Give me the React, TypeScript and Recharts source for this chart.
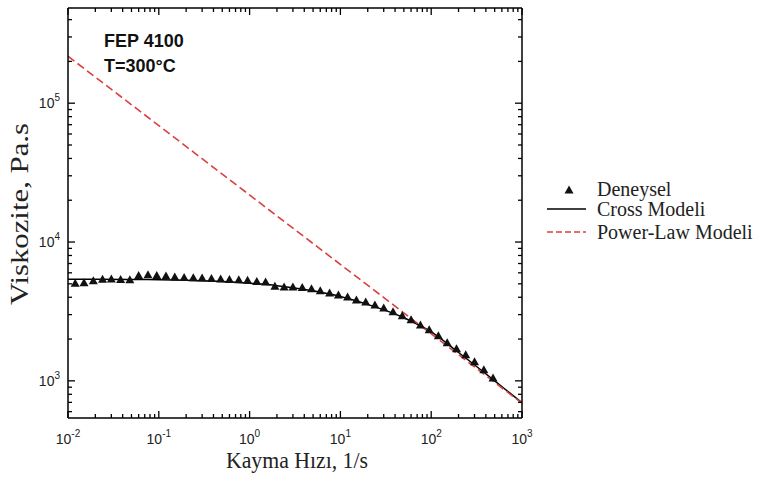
import {
  ComposedChart,
  Line,
  Scatter,
  XAxis,
  YAxis,
  Legend,
  Customized
} from 'recharts';

// shear rate (1/s) and measured viscosity (Pa.s)
const rateValues = [
  0.012, 0.015, 0.019, 0.024, 0.030, 0.038, 0.048, 0.060, 0.076, 0.095,
  0.12, 0.15, 0.19, 0.24, 0.30, 0.38, 0.48, 0.60, 0.76, 0.95,
  1.2, 1.5, 1.9, 2.4, 3.0, 3.8, 4.8, 6.0, 7.6, 9.5,
  12, 15, 19, 24, 30, 38, 48, 60, 76, 95,
  120, 150, 190, 240, 300, 380, 480
];
const viscosityValues = [
  5050, 5080, 5250, 5400, 5420, 5380, 5350, 5750, 5800, 5750,
  5700, 5600, 5550, 5520, 5500, 5450, 5420, 5380, 5350, 5300,
  5200, 5150, 4800, 4750, 4750, 4700, 4600, 4450, 4300, 4160,
  4020, 3830, 3700, 3520, 3350, 3140, 2940, 2750, 2530, 2330,
  2110, 1880, 1700, 1540, 1370, 1200, 1050
];

// Cross model fit
const crossRates = [0.01, 0.02, 0.05, 0.1, 0.2, 0.5, 1, 2, 5, 10, 20, 50, 100, 200, 500, 1000];
const crossValues = [5400, 5400, 5380, 5350, 5300, 5200, 5050, 4850, 4450, 4050, 3550, 2850, 2250, 1600, 1000, 695];

// power law model
const powerRates = [0.01, 1000];
const powerValues = [218000, 690];

const xMajor = [0.01, 0.1, 1, 10, 100, 1000];
const xExp = ['-2', '-1', '0', '1', '2', '3'];
const xMinor = [
  0.02, 0.03, 0.04, 0.05, 0.06, 0.07, 0.08, 0.09,
  0.2, 0.3, 0.4, 0.5, 0.6, 0.7, 0.8, 0.9,
  2, 3, 4, 5, 6, 7, 8, 9,
  20, 30, 40, 50, 60, 70, 80, 90,
  200, 300, 400, 500, 600, 700, 800, 900
];
const yMajor = [1000, 10000, 100000];
const yExp = ['3', '4', '5'];
const yMinor = [
  600, 700, 800, 900,
  2000, 3000, 4000, 5000, 6000, 7000, 8000, 9000,
  20000, 30000, 40000, 50000, 60000, 70000, 80000, 90000,
  200000, 300000, 400000
];

const measured = rateValues.map((x, i) => ({ x, y: viscosityValues[i] }));
const cross = crossRates.map((x, i) => ({ x, y: crossValues[i] }));
const power = powerRates.map((x, i) => ({ x, y: powerValues[i] }));

const xTicks = [...xMajor, ...xMinor].sort((a, b) => a - b);
const yTicks = [...yMajor, ...yMinor].sort((a, b) => a - b);

const RED = '#d8413f';
const tickFont = { fontFamily: "'Liberation Sans', Arial, sans-serif", fontSize: 14, fill: '#222' };

const makeTick = (side: 'bottom' | 'top' | 'left' | 'right') => (props: any) => {
  const { x, y, payload } = props;
  const v = payload.value;
  const xi = xMajor.indexOf(v);
  const yi = yMajor.indexOf(v);
  const major = side === 'bottom' || side === 'top' ? xi >= 0 : yi >= 0;
  const len = major ? 7 : 4;
  let d = '';
  if (side === 'bottom') d = `M${x},${y} L${x},${y - len}`;
  else if (side === 'top') d = `M${x},${y} L${x},${y + len}`;
  else if (side === 'left') d = `M${x},${y} L${x + len},${y}`;
  else d = `M${x},${y} L${x - len},${y}`;
  return (
    <g>
      <path d={d} stroke="#000" strokeWidth={1.3} fill="none" />
      {side === 'bottom' && xi >= 0 && (
        <text x={x} y={y + 26} textAnchor="middle" {...tickFont}>
          10<tspan dy={-7} fontSize={10}>{xExp[xi]}</tspan>
        </text>
      )}
      {side === 'left' && yi >= 0 && (
        <text x={x - 8} y={y + 5} textAnchor="end" {...tickFont}>
          10<tspan dy={-7} fontSize={10}>{yExp[yi]}</tspan>
        </text>
      )}
    </g>
  );
};

const Triangle = (props: any) => {
  const { cx, cy } = props;
  if (cx == null || cy == null) return null;
  return <path d={`M${cx},${cy - 4.5} L${cx + 4.5},${cy + 3.5} L${cx - 4.5},${cy + 3.5} Z`} fill="#111" />;
};

const renderLegend = () => (
  <svg width={238} height={80} style={{ display: 'block' }}>
    <path d="M49,19.5 L53.5,27.5 L44.5,27.5 Z" fill="#111" />
    <path d="M27,43 L66,43" stroke="#000" strokeWidth={1.5} />
    <path d="M27,66 L66,66" stroke={RED} strokeWidth={1.5} strokeDasharray="6 3" />
    <g fontFamily="'Liberation Serif', 'Times New Roman', serif" fontSize={20} fill="#222">
      <text x={77} y={30}>Deneysel</text>
      <text x={77} y={50}>Cross Modeli</text>
      <text x={77} y={73}>Power-Law Modeli</text>
    </g>
  </svg>
);

const Annotations = () => (
  <g>
    <g fontFamily="'Liberation Sans', Arial, sans-serif" fontWeight="bold" fontSize={18} fill="#111">
      <text x={104} y={47}>FEP 4100</text>
      <text x={104} y={72}>T=300°C</text>
    </g>
    <g fontFamily="'Liberation Serif', 'Times New Roman', serif" fill="#222">
      <text x={297} y={468} fontSize={23} textAnchor="middle" textLength={142} lengthAdjust="spacingAndGlyphs">
        Kayma Hızı, 1/s
      </text>
      <text
        x={28}
        y={214}
        fontSize={25}
        textAnchor="middle"
        textLength={182}
        lengthAdjust="spacingAndGlyphs"
        transform="rotate(-90, 28, 214)"
      >
        Viskozite, Pa.s
      </text>
    </g>
  </g>
);

const axisLine = { stroke: '#000', strokeWidth: 1.5 };

const App = () => {
  return (
    <div style={{ position: 'absolute', left: 0, top: 0, width: 758, height: 477, background: '#fff' }}>
      <ComposedChart width={758} height={477} margin={{ top: 7, right: 235, bottom: 0, left: 0 }}>
        <XAxis
          xAxisId="main"
          dataKey="x"
          type="number"
          scale="log"
          domain={[0.01, 1000]}
          allowDataOverflow
          ticks={xTicks}
          interval={0}
          height={59}
          tickSize={0}
          tickMargin={0}
          tickLine={false}
          axisLine={axisLine}
          tick={makeTick('bottom')}
        />
        <XAxis
          xAxisId="top"
          orientation="top"
          dataKey="x"
          type="number"
          scale="log"
          domain={[0.01, 1000]}
          allowDataOverflow
          ticks={xTicks}
          interval={0}
          height={1}
          tickSize={0}
          tickMargin={0}
          tickLine={false}
          axisLine={axisLine}
          tick={makeTick('top')}
        />
        <YAxis
          yAxisId="main"
          dataKey="y"
          type="number"
          scale="log"
          domain={[540, 485000]}
          allowDataOverflow
          ticks={yTicks}
          interval={0}
          width={68}
          tickSize={0}
          tickMargin={0}
          tickLine={false}
          axisLine={axisLine}
          tick={makeTick('left')}
        />
        <YAxis
          yAxisId="right"
          orientation="right"
          dataKey="y"
          type="number"
          scale="log"
          domain={[540, 485000]}
          allowDataOverflow
          ticks={yTicks}
          interval={0}
          width={1}
          tickSize={0}
          tickMargin={0}
          tickLine={false}
          axisLine={axisLine}
          tick={makeTick('right')}
        />
        <Legend
          layout="vertical"
          align="center"
          verticalAlign="middle"
          wrapperStyle={{ left: 520, top: 166, width: 238, height: 80 }}
          content={renderLegend}
        />
        {/* invisible series so the frame axes are in use */}
        <Line
          xAxisId="top"
          yAxisId="right"
          data={power}
          dataKey="y"
          stroke="none"
          dot={false}
          legendType="none"
          isAnimationActive={false}
        />
        <Line
          xAxisId="main"
          yAxisId="main"
          data={cross}
          dataKey="y"
          type="monotone"
          stroke="#000"
          strokeWidth={1.5}
          dot={false}
          isAnimationActive={false}
        />
        <Line
          xAxisId="main"
          yAxisId="main"
          data={power}
          dataKey="y"
          type="linear"
          stroke={RED}
          strokeWidth={1.6}
          strokeDasharray="8 4"
          dot={false}
          isAnimationActive={false}
        />
        <Scatter
          xAxisId="main"
          yAxisId="main"
          data={measured}
          dataKey="y"
          shape={Triangle}
          isAnimationActive={false}
        />
        <Customized component={Annotations} />
      </ComposedChart>
    </div>
  );
};

export default App;
